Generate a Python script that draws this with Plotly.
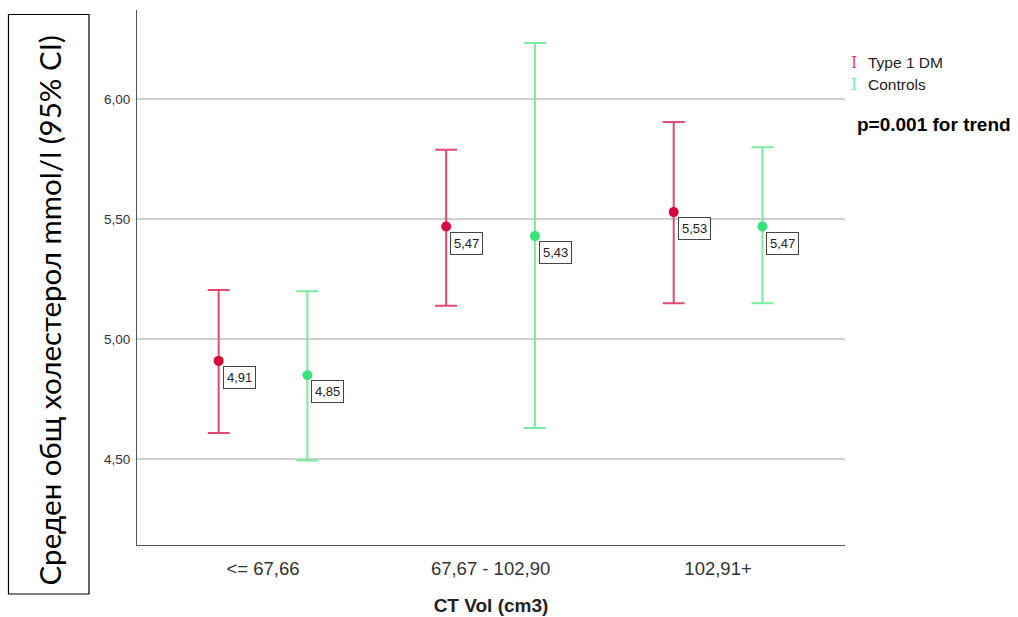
import plotly.graph_objects as go

categories = ["<= 67,66", "67,67 - 102,90", "102,91+"]
t1_mean = [4.91, 5.47, 5.53]
t1_lower = [4.61, 5.14, 5.15]
t1_upper = [5.205, 5.79, 5.905]
ctrl_mean = [4.85, 5.43, 5.47]
ctrl_lower = [4.495, 4.63, 5.15]
ctrl_upper = [5.20, 6.235, 5.80]
y_ticks = [4.5, 5.0, 5.5, 6.0]

W, H = 1018, 617
L, R, T, B = 137, 173, 10, 72
PW, PH = W - L - R, H - T - B

def px_x(p):
    return (p - L) / PW

def px_y(p):
    return (H - B - p) / PH

RED_M, RED_L = "#d6073b", "#e2496e"
GRN_M, GRN_L = "#3ae27c", "#79ec9f"
off = 0.195
idx = list(range(len(categories)))
FONT = "Liberation Sans, Arial"

fig = go.Figure()
series = [
    ("Type 1 DM", t1_mean, t1_lower, t1_upper, -off, RED_M, RED_L),
    ("Controls", ctrl_mean, ctrl_lower, ctrl_upper, off, GRN_M, GRN_L),
]
annotations = []
for name, m, lo, up, o, cm, cl in series:
    xs = [i + o for i in idx]
    fig.add_trace(go.Scatter(
        x=xs, y=m, mode="markers", name=name, showlegend=False,
        marker=dict(color=cm, size=10),
        error_y=dict(type="data", symmetric=False,
                     array=[u - v for u, v in zip(up, m)],
                     arrayminus=[v - l for v, l in zip(m, lo)],
                     color=cl, thickness=2, width=11),
    ))
    for x, v in zip(xs, m):
        annotations.append(dict(
            x=x, y=v, xref="x", yref="y", text=f"{v:.2f}".replace(".", ","),
            showarrow=False, xanchor="left", yanchor="top", xshift=4, yshift=-5,
            font=dict(family=FONT, size=13, color="#222"),
            bgcolor="white", bordercolor="#444", borderwidth=1, borderpad=3,
        ))

# legend
for i, (name, cm, cl) in enumerate([("Type 1 DM", RED_M, RED_L), ("Controls", GRN_M, GRN_L)]):
    yy = px_y(63 + 21 * i)
    annotations.append(dict(x=px_x(854), y=yy, xref="paper", yref="paper", text="I",
                            showarrow=False, xanchor="center", yanchor="middle",
                            font=dict(family="DejaVu Serif", size=16, color=cl)))
    annotations.append(dict(x=px_x(866), y=yy, xref="paper", yref="paper", text=name,
                            showarrow=False, xanchor="left", yanchor="middle",
                            font=dict(family=FONT, size=15.5, color="#222")))

annotations.append(dict(x=px_x(855), y=px_y(124), xref="paper", yref="paper",
                        text="<b>p=0.001 for trend</b>", showarrow=False,
                        xanchor="left", yanchor="middle",
                        font=dict(family=FONT, size=19, color="black")))

annotations.append(dict(x=px_x(49), y=px_y(310.5), xref="paper", yref="paper",
                        text="Среден общ холестерол mmol/l (95% CI)", textangle=-90,
                        showarrow=False, xanchor="center", yanchor="middle",
                        font=dict(family="Lato, Noto Sans", size=29.5, color="black")))

shapes = [dict(type="rect", xref="paper", yref="paper",
               x0=px_x(8.5), x1=px_x(89), y0=px_y(594), y1=px_y(14.5),
               line=dict(color="black", width=1.2), fillcolor="rgba(0,0,0,0)")]

fig.update_layout(
    width=W, height=H, margin=dict(l=L, r=R, t=T, b=B, autoexpand=False),
    paper_bgcolor="white", plot_bgcolor="white",
    separators=",.",
    annotations=annotations, shapes=shapes,
    font=dict(family=FONT, color="#333"),
)
fig.update_xaxes(
    range=[-0.554, 2.558], tickvals=idx, ticktext=categories, automargin=False,
    showgrid=False, zeroline=False, showline=True, linecolor="#555", linewidth=1,
    ticks="", ticklabelstandoff=7, tickfont=dict(size=18.5, color="#333"),
    title=dict(text="<b>CT Vol (cm3)</b>", font=dict(size=19, color="#222"), standoff=20),
)
fig.update_yaxes(
    range=[4.143, 6.372], tickvals=y_ticks, tickformat=".2f", automargin=False,
    showgrid=True, gridcolor="#cfcfcf", gridwidth=2, zeroline=False,
    showline=True, linecolor="#555", linewidth=1,
    ticks="", ticklabelstandoff=3, tickfont=dict(size=13.5, color="#333"),
)

fig.write_html("out.html")
